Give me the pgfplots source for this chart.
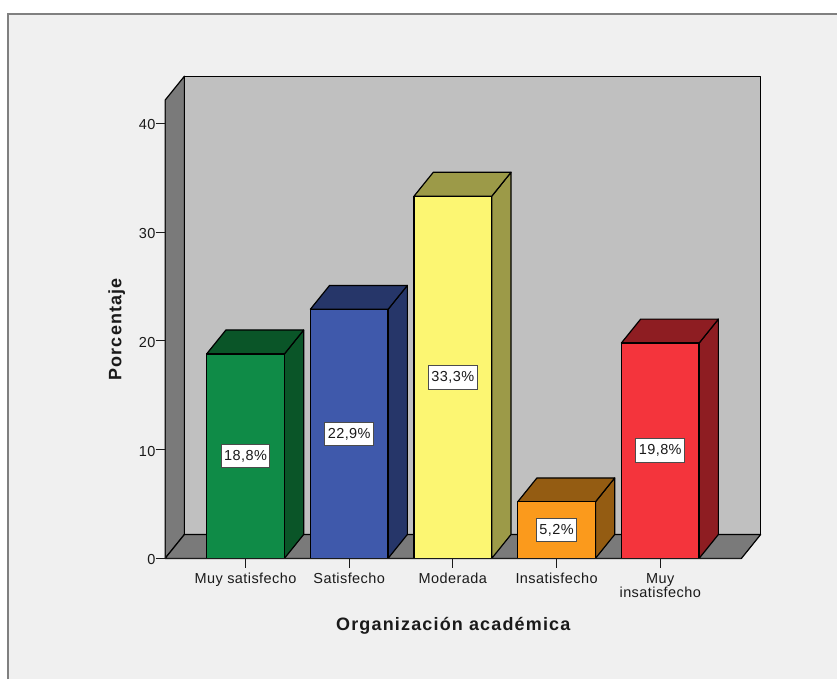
\documentclass[border=0pt]{standalone}
\usepackage{fontspec}
\setmainfont{Liberation Sans}
\newfontfamily\labfont[LetterSpace=6.5]{Liberation Sans}
\newfontfamily\tickfont[LetterSpace=3]{Liberation Sans}
\usepackage{pgfplots}
\pgfplotsset{compat=1.18}

\definecolor{bgcol}{HTML}{F0F0F0}
\definecolor{framecol}{HTML}{808080}
\definecolor{wallcol}{HTML}{C0C0C0}
\definecolor{sidecol}{HTML}{7A7A7A}
\definecolor{ink}{HTML}{1A1A1A}
\definecolor{greenF}{HTML}{0F8B47}\definecolor{greenS}{HTML}{0A5528}
\definecolor{blueF}{HTML}{3F59AB}\definecolor{blueS}{HTML}{263669}
\definecolor{yellowF}{HTML}{FCF672}\definecolor{yellowS}{HTML}{9C9A48}
\definecolor{orangeF}{HTML}{FB9A1C}\definecolor{orangeS}{HTML}{945C12}
\definecolor{redF}{HTML}{F4343C}\definecolor{redS}{HTML}{8E1D22}

% side and top of a bar: position, value, dark colour
\newcommand{\barsides}[3]{%
  \pgfmathsetmacro{\xa}{#1+0.375}%
  \pgfmathsetmacro{\xb}{#1+0.561}%
  \pgfmathsetmacro{\xc}{#1-0.189}%
  \pgfmathsetmacro{\xd}{#1-0.375}%
  \pgfmathsetmacro{\yb}{#2+2.2}%
  \addplot[fill=#3,draw=black,line width=1.2pt,line join=round,forget plot] coordinates {(\xa,0) (\xb,2.2) (\xb,\yb) (\xa,#2)} --cycle;
  \addplot[fill=#3,draw=black,line width=1.2pt,line join=round,forget plot] coordinates {(\xd,#2) (\xa,#2) (\xb,\yb) (\xc,\yb)} --cycle;
}

\begin{document}
\begin{tikzpicture}
\begin{axis}[
  scale only axis,
  width=577pt, height=458.8pt,
  xmin=-0.7755, xmax=4.783,
  ymin=0, ymax=42.13,
  clip=false,
  axis on top,
  axis lines*=left,
  axis line style={-,line width=1.2pt,color=ink},
  tick style={line width=1.2pt,color=ink},
  tick align=outside,
  major tick length=9.5pt,
  xtick={0,1,2,3,4},
  xticklabels={Muy satisfecho,Satisfecho,Moderada,Insatisfecho,{Muy\\insatisfecho}},
  ytick={0,10,20,30,40},
  /pgf/number format/assume math mode=true,
  tick label style={font=\tickfont\fontsize{14.5}{14}\selectfont,color=ink},
  xticklabel style={align=center,inner sep=0pt,anchor=north,yshift=-5pt},
  yticklabel style={inner sep=0pt,anchor=east,yshift=-1.5pt},
  xlabel={Organización académica},
  ylabel={Porcentaje},
  xlabel style={font=\labfont\fontsize{18}{18}\selectfont\bfseries,color=ink,at={(axis description cs:0.5,0)},anchor=center,yshift=-67pt},
  ylabel style={font=\labfont\fontsize{18}{18}\selectfont\bfseries,color=ink,at={(axis description cs:0,0.5)},anchor=center,yshift=48.5pt},
]
% page, panel
\fill[white] (axis cs:-2.368,-11.10) rectangle (axis cs:5.705,51.34);
\fill[bgcol] (axis cs:-2.286,-11.10) rectangle (axis cs:5.705,50.05);
\draw[framecol,line width=2pt] (axis cs:-2.286,-11.10) -- (axis cs:-2.286,50.05) -- (axis cs:5.705,50.05);

% walls and floor
\addplot[fill=sidecol,draw=black,line width=1.2pt,line join=round,forget plot] coordinates {(-0.7755,0) (-0.7755,42.13) (-0.5895,44.33) (-0.5895,2.2)} --cycle;
\addplot[fill=wallcol,draw=black,line width=1.2pt,line join=round,forget plot] coordinates {(-0.5895,2.2) (4.969,2.2) (4.969,44.33) (-0.5895,44.33)} --cycle;
\addplot[fill=sidecol,draw=black,line width=1.2pt,line join=round,forget plot] coordinates {(-0.7755,0) (4.783,0) (4.969,2.2) (-0.5895,2.2)} --cycle;

% bars
\barsides{0}{18.8}{greenS}
\addplot[ybar,bar width=77.8pt,bar shift=0pt,fill=greenF,draw=black,line width=1.2pt] coordinates {(0,18.8)};
\barsides{1}{22.9}{blueS}
\addplot[ybar,bar width=77.8pt,bar shift=0pt,fill=blueF,draw=black,line width=1.2pt] coordinates {(1,22.9)};
\barsides{2}{33.3}{yellowS}
\addplot[ybar,bar width=77.8pt,bar shift=0pt,fill=yellowF,draw=black,line width=1.2pt] coordinates {(2,33.3)};
\barsides{3}{5.2}{orangeS}
\addplot[ybar,bar width=77.8pt,bar shift=0pt,fill=orangeF,draw=black,line width=1.2pt] coordinates {(3,5.2)};
\barsides{4}{19.8}{redS}
\addplot[ybar,bar width=77.8pt,bar shift=0pt,fill=redF,draw=black,line width=1.2pt] coordinates {(4,19.8)};

% value labels
\tikzset{vlab/.style={fill=white,draw=black!70,line width=1pt,text=ink,font=\tickfont\fontsize{14.5}{14.5}\selectfont,inner xsep=3pt,inner ysep=0pt,minimum height=23.5pt}}
\node[vlab] at (axis cs:0,9.4) {18,8\%};
\node[vlab] at (axis cs:1,11.45) {22,9\%};
\node[vlab] at (axis cs:2,16.65) {33,3\%};
\node[vlab] at (axis cs:3,2.6) {5,2\%};
\node[vlab] at (axis cs:4,9.9) {19,8\%};
\end{axis}
\end{tikzpicture}
\end{document}
